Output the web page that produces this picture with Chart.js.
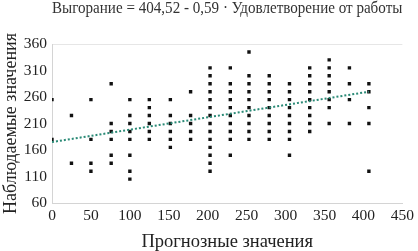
<!DOCTYPE html>
<html>
<head>
<meta charset="utf-8">
<script src="https://cdn.jsdelivr.net/npm/chart.js@4/dist/chart.umd.min.js"></script>
<style>
  html, body { margin: 0; padding: 0; background: #fff; }
  #wrap { width: 418px; height: 251px; }
</style>
</head>
<body>
<div id="wrap"><canvas id="myChart"></canvas></div>
<script>
// prognosis columns (x) and observed values in each column (y)
const xCols = [0, 25, 50, 76, 100, 125, 152, 178, 203, 229, 253, 279, 305, 331, 356, 382, 407];
const yCols = [
  [255, 180],
  [225, 135],
  [255, 180, 135, 120],
  [285, 210, 195, 180, 150, 135],
  [255, 225, 210, 195, 180, 150, 120, 105],
  [255, 240, 225, 210, 195, 180],
  [255, 225, 210, 195, 180, 165],
  [270, 225, 210, 195, 180],
  [315, 300, 285, 270, 255, 240, 225, 210, 195, 180, 165, 150, 135, 120],
  [315, 285, 270, 255, 240, 225, 210, 195, 180, 150],
  [345, 300, 285, 270, 255, 240, 225, 210, 195, 180],
  [300, 285, 270, 255, 240, 225, 210, 195, 180],
  [285, 270, 255, 240, 225, 210, 195, 180, 150],
  [315, 300, 285, 270, 255, 240, 225, 210, 195],
  [330, 315, 300, 285, 270, 255, 240, 210],
  [315, 285, 255, 210],
  [285, 270, 240, 210, 120]
];
const trendX = [0, 407];
const trendY = [175, 270];
const xTicks = [0, 50, 100, 150, 200, 250, 300, 350, 400, 450];
const yTicks = [60, 110, 160, 210, 260, 310, 360];

const titleText = 'Выгорание = 404,52 - 0,59 · Удовлетворение от работы';
const xTitle = 'Прогнозные значения';
const yTitle = 'Наблюдаемые значения';

const points = [];
xCols.forEach((x, i) => {
  yCols[i].forEach(y => points.push({x: x, y: y}));
});
const trend = trendX.map((x, i) => ({x: x, y: trendY[i]}));

const serif = "'Liberation Serif', 'DejaVu Serif', serif";

const config = {
  type: 'scatter',
  data: {
    datasets: [
      {
        label: 'trend',
        data: trend,
        showLine: true,
        borderColor: '#2a8a76',
        borderWidth: 2,
        borderDash: [2, 2],
        pointRadius: 0,
        fill: false
      },
      {
        label: 'observed',
        data: points,
        pointStyle: 'rect',
        pointRadius: 2.4,
        backgroundColor: '#111',
        borderColor: '#111',
        borderWidth: 0
      }
    ]
  },
  options: {
    responsive: true,
    maintainAspectRatio: false,
    animation: false,
    layout: {
      padding: { top: 0, bottom: 0, left: 0, right: 15 }
    },
    plugins: {
      legend: { display: false },
      tooltip: { enabled: false },
      title: {
        display: true,
        text: titleText,
        fullSize: false,
        color: '#333',
        font: { family: serif, size: 16.5, weight: 'normal', lineHeight: 1 },
        padding: { top: 0, bottom: 27.5 }
      }
    },
    scales: {
      x: {
        type: 'linear',
        min: 0,
        max: 450,
        afterBuildTicks: s => { s.ticks = xTicks.map(v => ({value: v})); },
        afterFit: s => { s.height = 48; },
        grid: { display: false, drawTicks: false },
        border: { color: '#d4d4d4' },
        ticks: {
          color: '#222',
          padding: 4,
          font: { family: serif, size: 15.5 }
        },
        title: {
          display: true,
          text: xTitle,
          color: '#222',
          font: { family: serif, size: 18.5, lineHeight: 1 },
          padding: { top: 0, bottom: 0 }
        }
      },
      y: {
        type: 'linear',
        min: 60,
        max: 360,
        afterBuildTicks: s => { s.ticks = yTicks.map(v => ({value: v})); },
        afterFit: s => { s.width = 52; },
        grid: {
          drawTicks: false,
          color: ctx => (ctx.tick && ctx.tick.value === 360) ? '#e6e6e6' : 'rgba(0,0,0,0)'
        },
        border: { color: '#d4d4d4' },
        ticks: {
          color: '#222',
          padding: 5,
          font: { family: serif, size: 15.5 }
        },
        title: {
          display: true,
          text: yTitle,
          color: '#222',
          font: { family: serif, size: 18, lineHeight: 1 },
          padding: { top: 2, bottom: 0 }
        }
      }
    }
  }
};

const myChart = new Chart(document.getElementById('myChart'), config);
</script>
</body>
</html>
